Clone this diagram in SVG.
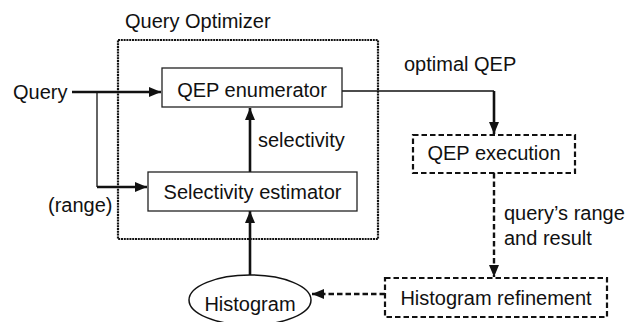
<svg xmlns="http://www.w3.org/2000/svg" width="628" height="322" viewBox="0 0 628 322">
<style>
text{font-family:"Liberation Sans",Arial,sans-serif;font-size:20px;fill:#111}
.box{fill:#fff;stroke:#222;stroke-width:1.3}
.dbox{fill:#fff;stroke:#111;stroke-width:2.2;stroke-dasharray:5.5 3}
.thin{fill:none;stroke:#111;stroke-width:1.3}
.thick{fill:none;stroke:#111;stroke-width:2.6}
.dash{fill:none;stroke:#111;stroke-width:2.4;stroke-dasharray:5.5 3}
</style>
<defs>
<marker id="ah" markerUnits="userSpaceOnUse" markerWidth="13" markerHeight="13" viewBox="0 0 13 13" refX="12" refY="6.5" orient="auto">
<path d="M0,1.5 L12,6.5 L0,11.5 Z" fill="#111"/>
</marker>
</defs>
<g id="optimizer">
<rect x="118" y="40" width="260" height="199" fill="none" stroke="#111" stroke-width="2.2" stroke-dasharray="2 0.8"/>
<text x="125" y="28">Query Optimizer</text>
</g>
<g id="connectors">
<path class="thick" d="M72,92 H161" marker-end="url(#ah)"/>
<path class="thin" d="M97,92 V187"/>
<path class="thick" d="M97,187 H147" marker-end="url(#ah)"/>
<path class="thick" d="M250,172 V108" marker-end="url(#ah)"/>
<path class="thick" d="M250,275 V211" marker-end="url(#ah)"/>
<path class="thin" d="M342,91 H494"/>
<path class="thick" d="M494,91 V134" marker-end="url(#ah)"/>
<path class="dash" d="M494,173 V277" marker-end="url(#ah)"/>
<path class="dash" d="M385,294 H312" marker-end="url(#ah)"/>
</g>
<g id="query-label"><text x="13" y="99">Query</text></g>
<g id="range-label"><text x="48" y="212">(range)</text></g>
<g id="qep-enumerator">
<rect class="box" x="162" y="68" width="180" height="39"/>
<text x="252" y="97" text-anchor="middle">QEP enumerator</text>
</g>
<g id="selectivity-label"><text x="258" y="147">selectivity</text></g>
<g id="selectivity-estimator">
<rect class="box" x="148" y="172" width="209" height="39"/>
<text x="252.5" y="199" text-anchor="middle">Selectivity estimator</text>
</g>
<g id="histogram">
<ellipse cx="250" cy="300" rx="61" ry="25" fill="#fff" stroke="#111" stroke-width="1.5"/>
<text x="250" y="311" text-anchor="middle">Histogram</text>
</g>
<g id="optimal-label"><text x="404" y="71">optimal QEP</text></g>
<g id="qep-execution">
<rect class="dbox" x="413" y="135" width="162" height="38"/>
<text x="494" y="160" text-anchor="middle">QEP execution</text>
</g>
<g id="range-result-label">
<text x="504" y="220">query’s range</text>
<text x="504" y="245">and result</text>
</g>
<g id="histogram-refinement">
<rect class="dbox" x="385" y="278" width="222" height="39"/>
<text x="496" y="305" text-anchor="middle">Histogram refinement</text>
</g>
</svg>
